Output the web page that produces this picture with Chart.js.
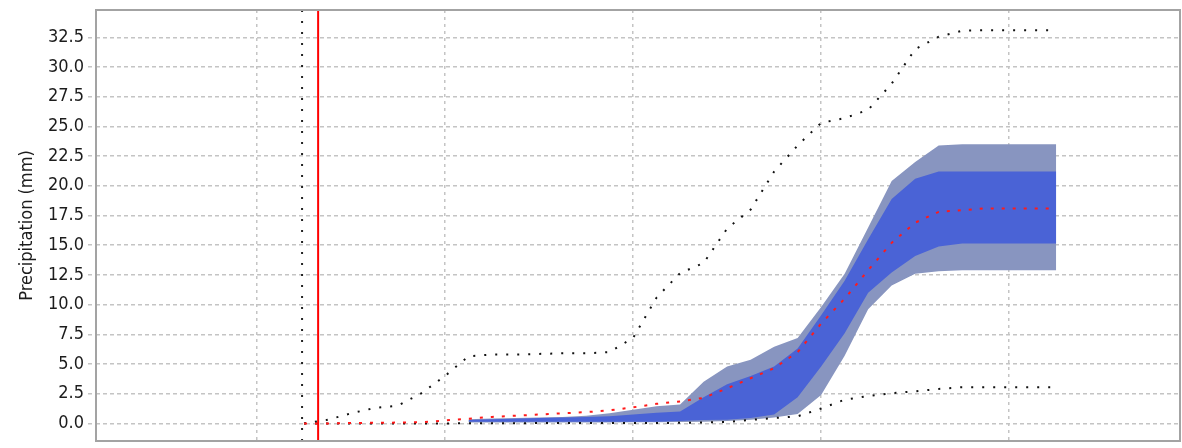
<!DOCTYPE html>
<html>
<head>
<meta charset="utf-8">
<title>Precipitation forecast</title>
<script src="https://cdn.jsdelivr.net/npm/chart.js@4.4.1/dist/chart.umd.min.js"></script>
<style>
    html, body { margin: 0; padding: 0; background: #fff; }
    #wrap { width: 1182px; height: 448px; }
</style>
</head>
<body>
<div id="wrap"><canvas id="precipChart"></canvas></div>
<script>
// Forecast hours (x values, 3 hour steps)
const hours = [6, 9, 12, 15, 18, 21, 24, 27, 30, 33, 36, 39, 42, 45, 48, 51, 54,
               57, 60, 63, 66, 69, 72, 75, 78, 81, 84, 87, 90, 93, 96, 99, 102];

// Accumulated precipitation (mm)
const maxValues = [0, 0.3, 0.85, 1.3, 1.5, 2.55, 4.0, 5.65, 5.8, 5.8, 5.85, 5.9, 5.9, 6.0, 7.2, 10.6, 12.65,
                   13.5, 16.4, 18.0, 21.2, 23.4, 25.3, 25.7, 26.4, 28.6, 31.5, 32.55, 33.05, 33.1, 33.1, 33.1, 33.1];
const medianValues = [0, 0, 0.03, 0.05, 0.07, 0.1, 0.25, 0.4, 0.55, 0.65, 0.75, 0.85, 0.95, 1.1, 1.35, 1.65, 1.85,
                      2.15, 2.95, 3.8, 4.65, 6.0, 8.4, 10.5, 12.9, 15.2, 16.9, 17.8, 17.95, 18.1, 18.1, 18.1, 18.1];
const minValues = [0, 0, 0, 0, 0, 0, 0, 0.02, 0.02, 0.02, 0.03, 0.03, 0.03, 0.03, 0.04, 0.04, 0.05,
                   0.08, 0.12, 0.3, 0.45, 0.6, 1.25, 2.0, 2.3, 2.55, 2.7, 2.9, 3.05, 3.05, 3.05, 3.05, 3.05];
const q90Values = [null, null, null, null, null, null, null, 0.35, 0.42, 0.45, 0.5, 0.55, 0.65, 0.85, 1.15, 1.45, 1.6,
                   3.5, 4.8, 5.35, 6.45, 7.2, 9.8, 12.6, 16.5, 20.4, 22.0, 23.4, 23.5, 23.5, 23.5, 23.5, 23.5];
const q75Values = [null, null, null, null, null, null, null, 0.28, 0.35, 0.4, 0.45, 0.5, 0.55, 0.6, 0.75, 0.9, 1.0,
                   2.2, 3.3, 4.0, 4.8, 6.3, 9.1, 12.0, 15.5, 18.9, 20.6, 21.2, 21.2, 21.2, 21.2, 21.2, 21.2];
const q25Values = [null, null, null, null, null, null, null, 0.13, 0.13, 0.13, 0.13, 0.13, 0.13, 0.13, 0.14, 0.15, 0.2,
                   0.28, 0.3, 0.45, 0.75, 2.2, 4.8, 7.6, 11.0, 12.7, 14.1, 14.9, 15.15, 15.15, 15.15, 15.15, 15.15];
const q10Values = [null, null, null, null, null, null, null, 0.08, 0.08, 0.08, 0.08, 0.08, 0.08, 0.08, 0.1, 0.1, 0.12,
                   0.15, 0.2, 0.3, 0.5, 0.8, 2.4, 5.7, 9.6, 11.6, 12.6, 12.8, 12.9, 12.9, 12.9, 12.9, 12.9];

// Axis ticks and markers
const yTicks = [0, 2.5, 5, 7.5, 10, 12.5, 15, 17.5, 20, 22.5, 25, 27.5, 30, 32.5];
const xGridHours = [0, 24, 48, 72, 96];
const forecastStartHour = 5.75;
const nowHour = 7.8;

const X_MIN = -20.55, X_MAX = 117.8;
const Y_MIN = -1.48, Y_MAX = 34.8;

const FONT = '"DejaVu Sans Condensed", "DejaVu Sans", sans-serif';
const GRID_COLOR = '#c4c4c4';

function toPoints(values) {
    return hours.map((h, i) => ({ x: h, y: values[i] }));
}

function verticalLine(x) {
    return [{ x: x, y: Y_MIN }, { x: x, y: Y_MAX }];
}

const lineDefaults = {
    pointRadius: 0,
    pointHoverRadius: 0,
    tension: 0,
    fill: false
};

// Draws the grey frame round the plot area
const framePlugin = {
    id: 'frame',
    afterDraw(chart) {
        const { ctx, chartArea } = chart;
        ctx.save();
        ctx.strokeStyle = '#a3a3a3';
        ctx.lineWidth = 2;
        ctx.strokeRect(chartArea.left, chartArea.top,
                       chartArea.right - chartArea.left, chartArea.bottom - chartArea.top);
        ctx.restore();
    }
};

const ctx = document.getElementById('precipChart');

new Chart(ctx, {
    type: 'line',
    data: {
        datasets: [
            Object.assign({}, lineDefaults, {
                label: 'Now',
                data: verticalLine(nowHour),
                borderColor: '#ff0000',
                borderWidth: 2
            }),
            Object.assign({}, lineDefaults, {
                label: 'Forecast start',
                data: verticalLine(forecastStartHour),
                borderColor: '#222',
                borderWidth: 2,
                borderDash: [2, 9]
            }),
            Object.assign({}, lineDefaults, {
                label: 'Median',
                data: toPoints(medianValues),
                borderColor: '#ff1a1a',
                borderWidth: 2,
                borderDash: [3, 8]
            }),
            Object.assign({}, lineDefaults, {
                label: 'Maximum',
                data: toPoints(maxValues),
                borderColor: '#111',
                borderWidth: 2,
                borderDash: [2, 9]
            }),
            Object.assign({}, lineDefaults, {
                label: 'Minimum',
                data: toPoints(minValues),
                borderColor: '#111',
                borderWidth: 2,
                borderDash: [2, 9]
            }),
            Object.assign({}, lineDefaults, {
                label: '75%',
                data: toPoints(q75Values),
                borderWidth: 0,
                borderColor: 'rgba(0,0,0,0)',
                backgroundColor: 'rgb(74, 99, 214)',
                fill: '+1'
            }),
            Object.assign({}, lineDefaults, {
                label: '25%',
                data: toPoints(q25Values),
                borderWidth: 0,
                borderColor: 'rgba(0,0,0,0)'
            }),
            Object.assign({}, lineDefaults, {
                label: '90%',
                data: toPoints(q90Values),
                borderWidth: 0,
                borderColor: 'rgba(0,0,0,0)',
                backgroundColor: 'rgb(136, 149, 192)',
                fill: '+1'
            }),
            Object.assign({}, lineDefaults, {
                label: '10%',
                data: toPoints(q10Values),
                borderWidth: 0,
                borderColor: 'rgba(0,0,0,0)'
            })
        ]
    },
    options: {
        responsive: true,
        maintainAspectRatio: false,
        devicePixelRatio: 1,
        animation: false,
        layout: {
            padding: { top: 10, right: 2, bottom: 7, left: 0 }
        },
        plugins: {
            legend: { display: false },
            tooltip: { enabled: false }
        },
        scales: {
            x: {
                type: 'linear',
                min: X_MIN,
                max: X_MAX,
                afterBuildTicks: function(scale) {
                    scale.ticks = xGridHours.map(v => ({ value: v }));
                },
                afterFit: function(scale) {
                    scale.height = 0;
                    scale.paddingLeft = 0;
                    scale.paddingRight = 0;
                },
                ticks: { display: false },
                grid: {
                    color: GRID_COLOR,
                    lineWidth: 1.5,
                    drawTicks: false
                },
                border: { display: false, dash: [3, 4] }
            },
            y: {
                type: 'linear',
                min: Y_MIN,
                max: Y_MAX,
                afterBuildTicks: function(scale) {
                    scale.ticks = yTicks.map(v => ({ value: v }));
                },
                afterFit: function(scale) {
                    scale.width = 96;
                    scale.paddingTop = 0;
                    scale.paddingBottom = 0;
                },
                ticks: {
                    color: '#1c1c1c',
                    padding: 4,
                    font: { family: FONT, size: 18 },
                    callback: function(value) {
                        return value.toFixed(1);
                    }
                },
                grid: {
                    color: GRID_COLOR,
                    lineWidth: 1.5,
                    tickLength: 8,
                    tickBorderDash: [4, 3]
                },
                border: { display: false, dash: [4, 3] },
                title: {
                    display: true,
                    text: 'Precipitation (mm)',
                    color: '#1c1c1c',
                    font: { family: FONT, size: 18 },
                    padding: { top: 17, bottom: 0 }
                }
            }
        }
    },
    plugins: [framePlugin]
});
</script>
</body>
</html>
